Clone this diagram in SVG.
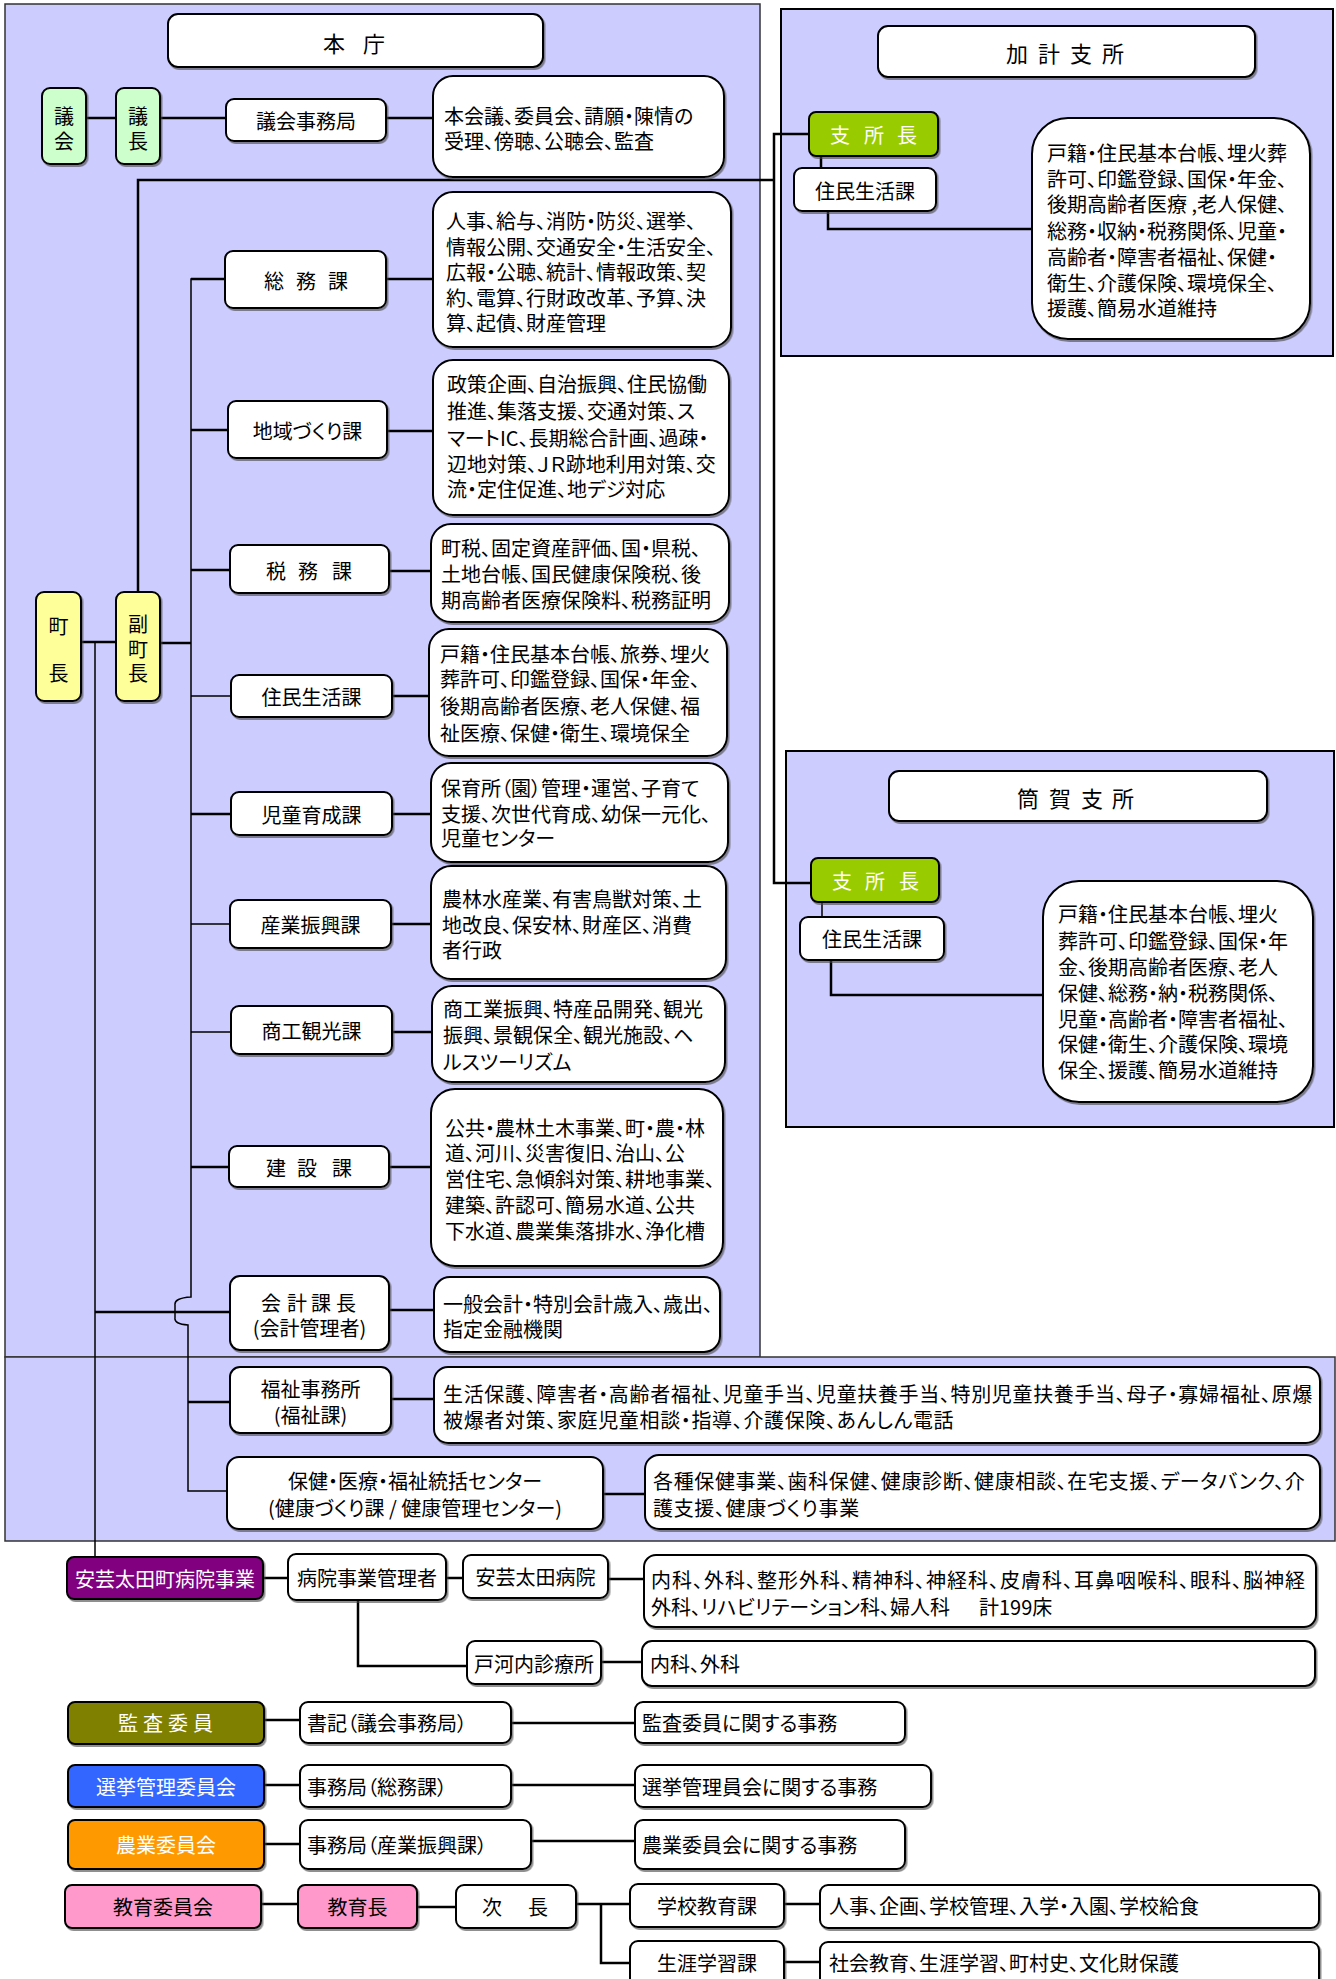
<svg xmlns="http://www.w3.org/2000/svg" width="1336" height="1979" viewBox="0 0 1336 1979">
<defs>
<filter id="sh" x="-5%" y="-10%" width="115%" height="130%"><feDropShadow dx="1.5" dy="2" stdDeviation="0.6" flood-color="#444" flood-opacity="0.6"/></filter>
<style>
.pnl{fill:#ccccff;stroke:#333;stroke-width:1.5}
.pnl2{fill:#ccccff;stroke:#000;stroke-width:2}
.box{fill:#fff;stroke:#000;stroke-width:2;filter:url(#sh)}
.gr{fill:#ccffcc;stroke:#000;stroke-width:2;filter:url(#sh)}
.yl{fill:#ffff99;stroke:#000;stroke-width:2;filter:url(#sh)}
.lg{fill:#99cc00;stroke:#000;stroke-width:2;filter:url(#sh)}
.pu{fill:#800080;stroke:#000;stroke-width:2;filter:url(#sh)}
.ol{fill:#808000;stroke:#000;stroke-width:2;filter:url(#sh)}
.bl{fill:#3366ff;stroke:#000;stroke-width:2;filter:url(#sh)}
.or{fill:#ff9900;stroke:#000;stroke-width:2;filter:url(#sh)}
.pk{fill:#ff99cc;stroke:#000;stroke-width:2;filter:url(#sh)}
text{font-family:"Noto Sans CJK JP","Noto Sans CJK SC",sans-serif;font-size:20px;fill:#000;dominant-baseline:central;font-feature-settings:"palt"}
.c{text-anchor:middle}
.w{fill:#fff}
.tt{font-size:22px}
.ln{stroke:#000;stroke-width:2.5;fill:none}
.th{stroke:#000;stroke-width:1.5;fill:none}
</style>
</defs>

<g id="panels">
<rect class="pnl" x="5" y="4" width="755" height="1353"/>
<rect class="pnl" x="5" y="1357" width="1330" height="184"/>
<rect class="pnl2" x="781" y="9" width="552" height="347"/>
<rect class="pnl2" x="786" y="751" width="548" height="376"/>
</g>

<g id="connectors">
<path class="ln" d="M86,118H116M160,118H226M386,118H433"/>
<path class="ln" d="M138,592V180H774M809,134H774V883H811"/>
<path class="ln" d="M821,156V168M828,211V229H1032"/>
<path class="th" d="M822,902V917"/>
<path class="ln" d="M831,960V995H1043"/>
<path class="ln" d="M81,642H116M160,643H191"/>
<path class="th" d="M225,279H191V1297Q174,1298 175,1305V1318Q174,1324 188,1325V1491H227"/>
<path class="ln" d="M191,279H225M191,430H228M191,570H230M191,814H231M191,1167H229M188,1402H230"/>
<path class="th" d="M191,696H231M191,924H230M191,1032H231"/>
<path class="ln" d="M386,279H433M387,431H433M389,571H431M392,696H429M392,814H431M391,924H431M392,1032H432M389,1167H431M389,1310H434M391,1399H434M603,1494H645"/>
<path class="th" d="M95,642V1557"/>
<path class="ln" d="M95,1312H230"/>
<path class="ln" d="M263,1578H288M446,1578H463M608,1579H644M358,1600V1666H467M601,1662H642"/>
<path class="ln" d="M264,1720H300M511,1723H635M264,1785H300M511,1785H635M264,1844H300M531,1841H635"/>
<path class="ln" d="M261,1904H298M417,1907H456M576,1904H630M601,1904V1963H630M784,1904H820M784,1962H820"/>
</g>

<g id="honcho-title"><rect class="box" x="168" y="14" width="375" height="53" rx="10"/><text class="tt c" x="334 374" y="42">本庁</text></g>
<g id="gikai"><rect class="gr" x="42" y="88" width="44" height="76" rx="8"/><text class="c"><tspan x="64" y="115">議</tspan><tspan x="64" y="140">会</tspan></text></g>
<g id="gicho"><rect class="gr" x="116" y="88" width="44" height="76" rx="8"/><text class="c"><tspan x="138" y="115">議</tspan><tspan x="138" y="140">長</tspan></text></g>
<g id="gikai-jimukyoku"><rect class="box" x="226" y="99" width="160" height="42" rx="8"/><text class="c" x="306" y="120">議会事務局</text></g>
<g id="gikai-desc"><rect class="box" x="433" y="76" width="291" height="101" rx="20"/><text><tspan x="444" y="115">本会議、委員会、請願・陳情の</tspan><tspan x="444" y="140">受理、傍聴、公聴会、監査</tspan></text></g>

<g id="chocho"><rect class="yl" x="36" y="592" width="45" height="109" rx="8"/><text class="c"><tspan x="58.5" y="625">町</tspan><tspan x="58.5" y="672">長</tspan></text></g>
<g id="fukuchocho"><rect class="yl" x="116" y="592" width="44" height="109" rx="8"/><text class="c"><tspan x="138" y="623">副</tspan><tspan x="138" y="648">町</tspan><tspan x="138" y="672">長</tspan></text></g>

<g id="somu"><rect class="box" x="225" y="251" width="161" height="57" rx="8"/><text class="c" x="274 306 338" y="280">総務課</text></g>
<g id="somu-desc"><rect class="box" x="433" y="192" width="298" height="155" rx="20"/><text><tspan x="446" y="220">人事、給与、消防・防災、選挙、</tspan><tspan x="446" y="246">情報公開、交通安全・生活安全、</tspan><tspan x="446" y="271">広報・公聴、統計、情報政策、契</tspan><tspan x="446" y="297">約、電算、行財政改革、予算、決</tspan><tspan x="446" y="322">算、起債、財産管理</tspan></text></g>

<g id="chiiki"><rect class="box" x="228" y="401" width="159" height="57" rx="8"/><text class="c" x="307.5" y="430">地域づくり課</text></g>
<g id="chiiki-desc"><rect class="box" x="433" y="360" width="296" height="155" rx="20"/><text><tspan x="447" y="383">政策企画、自治振興、住民協働</tspan><tspan x="447" y="410">推進、集落支援、交通対策、ス</tspan><tspan x="447" y="437">マートIC、長期総合計画、過疎・</tspan><tspan x="447" y="463">辺地対策、ＪＲ跡地利用対策、交</tspan><tspan x="447" y="488">流・定住促進、地デジ対応</tspan></text></g>

<g id="zeimu"><rect class="box" x="230" y="545" width="159" height="48" rx="8"/><text class="c" x="276 308 342" y="570">税務課</text></g>
<g id="zeimu-desc"><rect class="box" x="431" y="524" width="298" height="98" rx="20"/><text><tspan x="441" y="547">町税、固定資産評価、国・県税、</tspan><tspan x="441" y="573">土地台帳、国民健康保険税、後</tspan><tspan x="441" y="599">期高齢者医療保険料、税務証明</tspan></text></g>

<g id="jumin"><rect class="box" x="231" y="675" width="161" height="42" rx="8"/><text class="c" x="311.5" y="696">住民生活課</text></g>
<g id="jumin-desc"><rect class="box" x="429" y="629" width="298" height="127" rx="20"/><text><tspan x="440" y="653">戸籍・住民基本台帳、旅券、埋火</tspan><tspan x="440" y="678">葬許可、印鑑登録、国保・年金、</tspan><tspan x="440" y="705">後期高齢者医療、老人保健、福</tspan><tspan x="440" y="732">祉医療、保健・衛生、環境保全</tspan></text></g>

<g id="jido"><rect class="box" x="231" y="792" width="161" height="43" rx="8"/><text class="c" x="311.5" y="814">児童育成課</text></g>
<g id="jido-desc"><rect class="box" x="431" y="763" width="297" height="99" rx="20"/><text><tspan x="441" y="787">保育所（園）管理・運営、子育て</tspan><tspan x="441" y="813">支援、次世代育成、幼保一元化、</tspan><tspan x="441" y="837">児童センター</tspan></text></g>

<g id="sangyo"><rect class="box" x="230" y="900" width="161" height="48" rx="8"/><text class="c" x="310.5" y="924">産業振興課</text></g>
<g id="sangyo-desc"><rect class="box" x="431" y="866" width="295" height="113" rx="20"/><text><tspan x="442" y="898">農林水産業、有害鳥獣対策、土</tspan><tspan x="442" y="924">地改良、保安林、財産区、消費</tspan><tspan x="442" y="949">者行政</tspan></text></g>

<g id="shoko"><rect class="box" x="231" y="1006" width="161" height="48" rx="8"/><text class="c" x="311.5" y="1030">商工観光課</text></g>
<g id="shoko-desc"><rect class="box" x="432" y="986" width="293" height="96" rx="20"/><text><tspan x="443" y="1008">商工業振興、特産品開発、観光</tspan><tspan x="443" y="1034">振興、景観保全、観光施設、ヘ</tspan><tspan x="443" y="1061">ルスツーリズム</tspan></text></g>

<g id="kensetsu"><rect class="box" x="229" y="1146" width="160" height="41" rx="8"/><text class="c" x="276 307 342" y="1167">建設課</text></g>
<g id="kensetsu-desc"><rect class="box" x="431" y="1089" width="292" height="177" rx="24"/><text><tspan x="445" y="1127">公共・農林土木事業、町・農・林</tspan><tspan x="445" y="1152">道、河川、災害復旧、治山、公</tspan><tspan x="445" y="1178">営住宅、急傾斜対策、耕地事業、</tspan><tspan x="445" y="1204">建築、許認可、簡易水道、公共</tspan><tspan x="445" y="1230">下水道、農業集落排水、浄化槽</tspan></text></g>

<g id="kaikei"><rect class="box" x="230" y="1276" width="159" height="74" rx="10"/><text class="c"><tspan x="271 297 321 346" y="1302">会計課長</tspan><tspan x="309.5" y="1327">(会計管理者)</tspan></text></g>
<g id="kaikei-desc"><rect class="box" x="434" y="1277" width="286" height="75" rx="16"/><text><tspan x="443" y="1303">一般会計・特別会計歳入、歳出、</tspan><tspan x="443" y="1328">指定金融機関</tspan></text></g>

<g id="fukushi"><rect class="box" x="230" y="1367" width="161" height="66" rx="10"/><text class="c"><tspan x="310.5" y="1388">福祉事務所</tspan><tspan x="310.5" y="1414">(福祉課)</tspan></text></g>
<g id="fukushi-desc"><rect class="box" x="434" y="1367" width="886" height="76" rx="14"/><text><tspan x="443" y="1393" letter-spacing="0.65">生活保護、障害者・高齢者福祉、児童手当、児童扶養手当、特別児童扶養手当、母子・寡婦福祉、原爆</tspan><tspan x="443" y="1419" letter-spacing="0.65">被爆者対策、家庭児童相談・指導、介護保険、あんしん電話</tspan></text></g>

<g id="hoken"><rect class="box" x="227" y="1457" width="376" height="72" rx="12"/><text class="c"><tspan x="415" y="1480">保健・医療・福祉統括センター</tspan><tspan x="415" y="1507">(健康づくり課 / 健康管理センター)</tspan></text></g>
<g id="hoken-desc"><rect class="box" x="645" y="1455" width="675" height="74" rx="14"/><text><tspan x="653" y="1480" letter-spacing="0.65">各種保健事業、歯科保健、健康診断、健康相談、在宅支援、データバンク、介</tspan><tspan x="653" y="1507" letter-spacing="0.65">護支援、健康づくり事業</tspan></text></g>

<g id="kake-title"><rect class="box" x="878" y="26" width="377" height="51" rx="10"/><text class="tt c" x="1017 1049 1081 1113" y="52">加計支所</text></g>
<g id="kake-shochou"><rect class="lg" x="809" y="112" width="129" height="44" rx="7"/><text class="c w" x="840 874 907" y="134">支所長</text></g>
<g id="kake-jumin"><rect class="box" x="794" y="168" width="142" height="43" rx="8"/><text class="c" x="865" y="190">住民生活課</text></g>
<g id="kake-desc"><rect class="box" x="1032" y="118" width="278" height="221" rx="36"/><text><tspan x="1047" y="152">戸籍・住民基本台帳、埋火葬</tspan><tspan x="1047" y="178">許可、印鑑登録、国保・年金、</tspan><tspan x="1047" y="203">後期高齢者医療 ,老人保健、</tspan><tspan x="1047" y="230">総務・収納・税務関係、児童・</tspan><tspan x="1047" y="256">高齢者・障害者福祉、保健・</tspan><tspan x="1047" y="282">衛生、介護保険、環境保全、</tspan><tspan x="1047" y="307">援護、簡易水道維持</tspan></text></g>

<g id="tsutsuga-title"><rect class="box" x="889" y="771" width="378" height="50" rx="10"/><text class="tt c" x="1028 1060 1092 1123" y="797">筒賀支所</text></g>
<g id="tsutsuga-shochou"><rect class="lg" x="811" y="858" width="128" height="44" rx="7"/><text class="c w" x="842 875 909" y="880">支所長</text></g>
<g id="tsutsuga-jumin"><rect class="box" x="800" y="917" width="144" height="43" rx="8"/><text class="c" x="872" y="938">住民生活課</text></g>
<g id="tsutsuga-desc"><rect class="box" x="1043" y="881" width="270" height="221" rx="36"/><text><tspan x="1058" y="913">戸籍・住民基本台帳、埋火</tspan><tspan x="1058" y="940">葬許可、印鑑登録、国保・年</tspan><tspan x="1058" y="966">金、後期高齢者医療、老人</tspan><tspan x="1058" y="992">保健、総務・納・税務関係、</tspan><tspan x="1058" y="1018">児童・高齢者・障害者福祉、</tspan><tspan x="1058" y="1043">保健・衛生、介護保険、環境</tspan><tspan x="1058" y="1069">保全、援護、簡易水道維持</tspan></text></g>

<g id="byoin-jigyo"><rect class="pu" x="67" y="1557" width="196" height="42" rx="7"/><text class="c w" x="165" y="1578">安芸太田町病院事業</text></g>
<g id="byoin-kanrisha"><rect class="box" x="288" y="1554" width="158" height="46" rx="8"/><text class="c" x="367" y="1577">病院事業管理者</text></g>
<g id="akiota-byoin"><rect class="box" x="463" y="1555" width="145" height="43" rx="8"/><text class="c" x="535.5" y="1576">安芸太田病院</text></g>
<g id="byoin-desc"><rect class="box" x="644" y="1555" width="672" height="72" rx="12"/><text><tspan x="651" y="1579" letter-spacing="1">内科、外科、整形外科、精神科、神経科、皮膚科、耳鼻咽喉科、眼科、脳神経</tspan><tspan x="651" y="1606">外科、リハビリテーション科、婦人科</tspan><tspan x="979" y="1606">計199床</tspan></text></g>
<g id="togouchi"><rect class="box" x="467" y="1641" width="134" height="43" rx="8"/><text class="c" x="534" y="1663">戸河内診療所</text></g>
<g id="togouchi-desc"><rect class="box" x="642" y="1641" width="673" height="45" rx="10"/><text x="650" y="1663">内科、外科</text></g>

<g id="kansa"><rect class="ol" x="68" y="1702" width="196" height="42" rx="7"/><text class="c w" x="128 153 178 203" y="1722">監査委員</text></g>
<g id="kansa-shoki"><rect class="box" x="300" y="1702" width="211" height="41" rx="8"/><text x="307" y="1722">書記（議会事務局）</text></g>
<g id="kansa-desc"><rect class="box" x="635" y="1702" width="270" height="41" rx="8"/><text x="642" y="1722">監査委員に関する事務</text></g>

<g id="senkyo"><rect class="bl" x="68" y="1765" width="196" height="42" rx="7"/><text class="c w" x="166" y="1786">選挙管理委員会</text></g>
<g id="senkyo-jimu"><rect class="box" x="300" y="1765" width="211" height="42" rx="8"/><text x="307" y="1786">事務局（総務課）</text></g>
<g id="senkyo-desc"><rect class="box" x="635" y="1765" width="296" height="42" rx="8"/><text x="642" y="1786">選挙管理員会に関する事務</text></g>

<g id="nogyo"><rect class="or" x="68" y="1820" width="196" height="49" rx="7"/><text class="c w" x="166" y="1844">農業委員会</text></g>
<g id="nogyo-jimu"><rect class="box" x="300" y="1820" width="231" height="49" rx="8"/><text x="307" y="1844">事務局（産業振興課）</text></g>
<g id="nogyo-desc"><rect class="box" x="635" y="1820" width="270" height="49" rx="8"/><text x="642" y="1844">農業委員会に関する事務</text></g>

<g id="kyoiku-iinkai"><rect class="pk" x="65" y="1885" width="196" height="43" rx="7"/><text class="c" x="163" y="1906">教育委員会</text></g>
<g id="kyoikucho"><rect class="pk" x="298" y="1885" width="119" height="43" rx="7"/><text class="c" x="357.5" y="1906">教育長</text></g>
<g id="jicho"><rect class="box" x="456" y="1885" width="120" height="43" rx="8"/><text class="c" x="492 538" y="1906">次長</text></g>
<g id="gakko"><rect class="box" x="630" y="1884" width="154" height="43" rx="8"/><text class="c" x="707" y="1905">学校教育課</text></g>
<g id="gakko-desc"><rect class="box" x="820" y="1885" width="499" height="43" rx="8"/><text x="829" y="1905">人事、企画、学校管理、入学・入園、学校給食</text></g>
<g id="shogai"><rect class="box" x="630" y="1941" width="154" height="50" rx="8"/><text class="c" x="707" y="1962">生涯学習課</text></g>
<g id="shogai-desc"><rect class="box" x="820" y="1942" width="499" height="50" rx="8"/><text x="829" y="1962">社会教育、生涯学習、町村史、文化財保護</text></g>
</svg>
